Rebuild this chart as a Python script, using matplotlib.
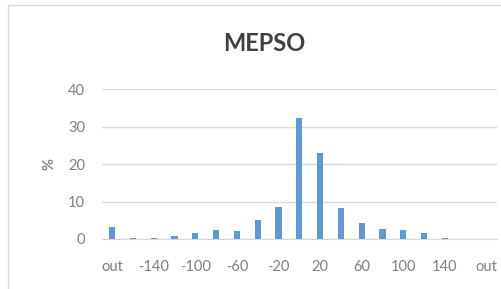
import numpy as np
import matplotlib.pyplot as plt
from matplotlib.patches import Rectangle

plt.rcParams['font.family'] = ['Lato', 'DejaVu Sans']

# bins of the histogram (every other one is labelled)
bins = ["out", "-160", "-140", "-120", "-100", "-80", "-60", "-40", "-20", "0",
        "20", "40", "60", "80", "100", "120", "140", "160", "out"]
percent = [3.2, 0.3, 0.3, 0.7, 1.6, 2.3, 2.2, 5.2, 8.6, 32.2,
           23.0, 8.2, 4.4, 2.6, 2.4, 1.7, 0.2, 0.0, 0.0]
yticks = [0, 10, 20, 30, 40]

fig = plt.figure(figsize=(5.02, 2.89), dpi=100)
ax = fig.add_axes([101.6 / 502, 1 - 239 / 289, (497 - 101.6) / 502, 150 / 289])

x = np.arange(len(bins))
ax.bar(x, percent, width=0.3, color="#5b9bd5", zorder=3)

ax.set_xlim(-0.5, len(bins) - 0.5)
ax.set_ylim(0, 40)
ax.set_yticks(yticks)
ax.set_xticks(x[::2])
ax.set_xticklabels(bins[::2])
ax.tick_params(axis="both", length=0, labelsize=10.5, labelcolor="#808080")
ax.tick_params(axis="x", pad=15)
ax.tick_params(axis="y", pad=12)
ax.grid(axis="y", color="#d9d9d9", linewidth=1, zorder=0)
for s in ["left", "right", "top"]:
    ax.spines[s].set_visible(False)
ax.spines["bottom"].set_color("#d9d9d9")

ax.set_ylabel("%", fontsize=10.5, color="#808080", fontweight="bold", labelpad=8)
fig.text(264 / 502, 1 - 43 / 289, "MEPSO", ha="center", va="center",
         fontsize=17, fontweight="bold", color="#404040")

# chart border
fig.patches.append(Rectangle((8 / 502, -0.05), 1.0, 1.05 - 5 / 289, transform=fig.transFigure,
                             fill=False, edgecolor="#d9d9d9", linewidth=1))

fig.savefig("out.png", dpi=100)
